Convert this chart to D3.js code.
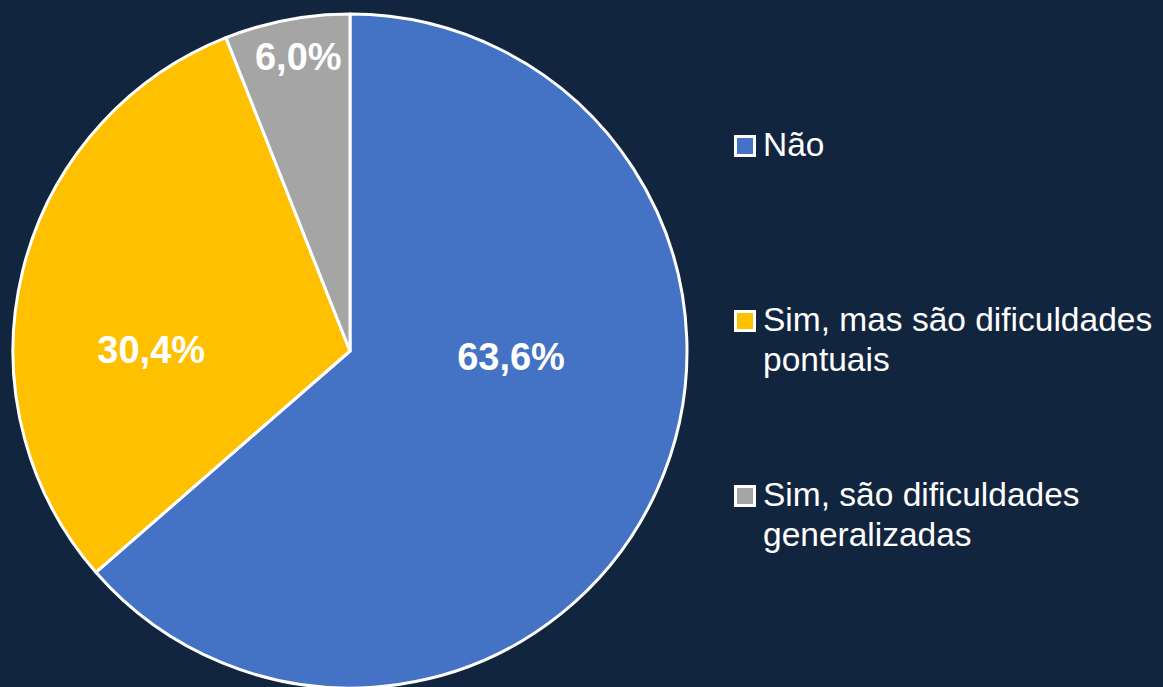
<!DOCTYPE html>
<meta charset="utf-8">
<style>
  html, body { margin: 0; padding: 0; background: #12253f; }
  svg { display: block; }
</style>
<body>
<script src="https://cdn.jsdelivr.net/npm/d3@7"></script>
<script>

var width = 1163,
    height = 687;

// data
var categories = ["Não", "Sim, mas são dificuldades pontuais", "Sim, são dificuldades generalizadas"];
var values = [63.6, 30.4, 6.0];
var legendLines = [["Não"], ["Sim, mas são dificuldades", "pontuais"], ["Sim, são dificuldades", "generalizadas"]];
var colors = ["#4472c4", "#ffc000", "#a5a5a5"];

// where the label sits inside its slice: share of the slice angle, share of the radius
var labelAngle = [0.40, 0.38, 0.54],
    labelRadius = [0.478, 0.59, 0.89];

var cx = 350, cy = 351, radius = 337;

var svg = d3.select("body").append("svg")
    .attr("width", width)
    .attr("height", height);

svg.append("rect")
    .attr("width", width)
    .attr("height", height)
    .attr("fill", "#12253f");

var pie = d3.pie().sort(null).value(function(d) { return d; });
var arcs = pie(values);

var arc = d3.arc().innerRadius(0).outerRadius(radius);

var g = svg.append("g").attr("transform", "translate(" + cx + "," + cy + ")");

g.selectAll("path")
    .data(arcs)
  .enter().append("path")
    .attr("d", arc)
    .attr("fill", function(d, i) { return colors[i]; })
    .attr("stroke", "#fff")
    .attr("stroke-width", 3)
    .attr("stroke-linejoin", "round");

var fmt = function(v) { return v.toFixed(1).replace(".", ",") + "%"; };

g.selectAll("text.lbl")
    .data(arcs)
  .enter().append("text")
    .attr("class", "lbl")
    .attr("transform", function(d, i) {
      var a = d.startAngle + (d.endAngle - d.startAngle) * labelAngle[i],
          r = radius * labelRadius[i];
      return "translate(" + (Math.sin(a) * r) + "," + (-Math.cos(a) * r) + ")";
    })
    .attr("text-anchor", "middle")
    .attr("dy", "0.37em")
    .attr("fill", "#fff")
    .style("font-family", "'Liberation Sans', Arial, sans-serif")
    .style("font-weight", "bold")
    .style("font-size", "38px")
    .text(function(d) { return fmt(d.value); });

// legend
var legendY = d3.scalePoint().domain(categories).range([156, 506]);

var legend = svg.selectAll("g.leg")
    .data(categories)
  .enter().append("g")
    .attr("class", "leg")
    .attr("transform", function(d) { return "translate(734," + legendY(d) + ")"; });

legend.append("rect")
    .attr("x", 1.5)
    .attr("y", -19.5)
    .attr("width", 19)
    .attr("height", 19)
    .attr("fill", function(d, i) { return colors[i]; })
    .attr("stroke", "#fff")
    .attr("stroke-width", 3);

legend.append("text")
    .attr("x", 29)
    .attr("fill", "#fff")
    .style("font-family", "'Liberation Sans', Arial, sans-serif")
    .style("font-size", "33.5px")
    .selectAll("tspan")
    .data(function(d, i) { return legendLines[i]; })
  .enter().append("tspan")
    .attr("x", 29)
    .attr("dy", function(d, j) { return j ? 40 : 0; })
    .text(function(d) { return d; });

</script>
